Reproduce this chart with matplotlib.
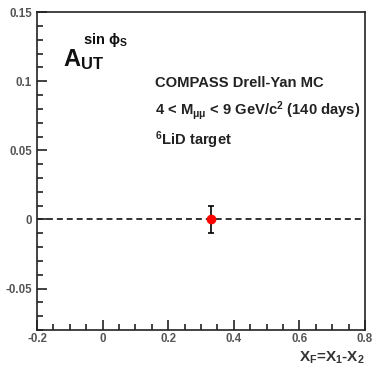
import numpy as np
import matplotlib.pyplot as plt
from matplotlib.ticker import MultipleLocator

plt.rcParams['font.family'] = 'Liberation Sans'
plt.rcParams['font.weight'] = 'bold'
plt.rcParams['mathtext.fontset'] = 'custom'
plt.rcParams['mathtext.rm'] = 'Liberation Sans:bold'
plt.rcParams['mathtext.it'] = 'Liberation Sans:bold'
plt.rcParams['mathtext.bf'] = 'Liberation Sans:bold'

# data
xf = [0.33]
asym = [0.0]
asym_err = [0.0095]

fig = plt.figure(figsize=(3.72, 3.67), dpi=100)
ax = fig.add_axes([0.0995, 0.1008, 0.8815, 0.866])

ax.axhline(0, color='#222222', ls=(0, (3.3, 2.2)), lw=1.3, zorder=1)
ax.errorbar(xf, asym, yerr=asym_err, fmt='o', color='red', ms=6,
            ecolor='black', elinewidth=1.2, capsize=2.3, capthick=1.2, zorder=3)

ax.set_xlim(-0.2, 0.8)
ax.set_ylim(-0.08, 0.15)
ax.xaxis.set_major_locator(MultipleLocator(0.2))
ax.xaxis.set_minor_locator(MultipleLocator(0.05))
ax.yaxis.set_major_locator(MultipleLocator(0.05))
ax.yaxis.set_minor_locator(MultipleLocator(0.01))
ax.tick_params(which='both', direction='in', top=False, right=False,
               labelsize=8.3, width=1.2, colors='#222222')
ax.tick_params(which='major', length=7.5)
ax.tick_params(which='minor', length=4.5)
ax.tick_params(axis='x', pad=2.5)
ax.set_xticks([-0.2, 0, 0.2, 0.4, 0.6, 0.8])
ax.set_xticklabels(['-0.2', '0', '0.2', '0.4', '0.6', '0.8'])
ax.set_yticks([-0.05, 0, 0.05, 0.1, 0.15])
ax.set_yticklabels(['-0.05', '0', '0.05', '0.1', '0.15'])
for lab in ax.get_xticklabels() + ax.get_yticklabels():
    lab.set_color('#555555')
for s in ax.spines.values():
    s.set_linewidth(1.2)
    s.set_color('#222222')

ax.text(0.08, 0.83, r'$A_{UT}$', transform=ax.transAxes, fontsize=17, color='#111111')
ax.text(0.14, 0.90, r'sin $\phi_S$', transform=ax.transAxes, fontsize=10.5, color='#111111')

ax.text(0.36, 0.777, 'COMPASS Drell-Yan MC', transform=ax.transAxes,
        fontsize=10.6, va='center', color='#222222')
ax.text(0.36, 0.692, r'4 < M$_{\mu\mu}$ < 9 GeV/c$^2$ (140 days)', transform=ax.transAxes,
        fontsize=10.6, va='center', color='#222222')
ax.text(0.36, 0.597, r'$^6$LiD target', transform=ax.transAxes,
        fontsize=10.6, va='center', color='#222222')

fig.text(0.981, 0.004, r'X$_F$=X$_1$-X$_2$', ha='right', va='bottom',
         fontsize=11, color='#333333')

fig.savefig('out.png', dpi=100)
